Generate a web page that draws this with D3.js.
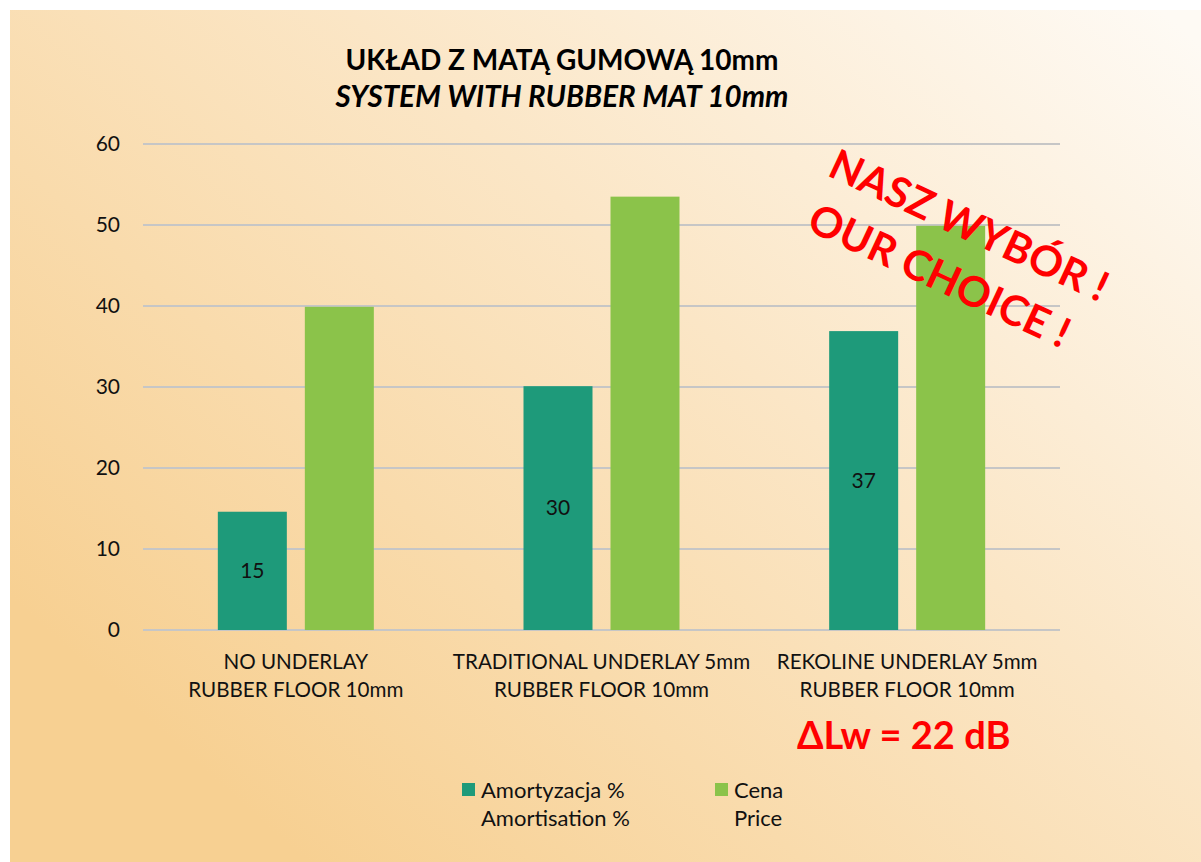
<!DOCTYPE html>
<html><head><meta charset="utf-8">
<script src="https://cdn.jsdelivr.net/npm/d3@7"></script>
<style>html,body{margin:0;padding:0;background:#fff;}svg{display:block;}</style>
</head><body>
<script>
const categories = [["NO UNDERLAY","RUBBER FLOOR 10mm"],["TRADITIONAL UNDERLAY 5mm","RUBBER FLOOR 10mm"],["REKOLINE UNDERLAY 5mm","RUBBER FLOOR 10mm"]];
const amortisation = [14.6, 30.1, 36.9];
const price = [39.9, 53.5, 49.9];
const seriesNames = [["Amortyzacja %","Amortisation %"],["Cena","Price"]];
const yTicks = [0,10,20,30,40,50,60];
const titleLines = ["UKŁAD Z MATĄ GUMOWĄ 10mm","SYSTEM WITH RUBBER MAT 10mm"];
const stampLines = ["NASZ WYBÓR !","OUR CHOICE !"];
const note = "ΔLw = 22 dB";

const W=1201,H=862;
const font="Lato, 'Open Sans', sans-serif";
const svg=d3.select("body").append("svg").attr("width",W).attr("height",H);
const defs=svg.append("defs");
const g=defs.append("linearGradient").attr("id","bg").attr("gradientUnits","userSpaceOnUse")
  .attr("x1",1150).attr("y1",0).attr("x2",350).attr("y2",900);
g.append("stop").attr("offset",0).attr("stop-color","#fefaf4");
g.append("stop").attr("offset",0.45).attr("stop-color","#fbe6c6");
g.append("stop").attr("offset",1).attr("stop-color","#f7d092");
svg.append("rect").attr("x",10).attr("y",10).attr("width",W-10).attr("height",H-10).attr("fill","url(#bg)");

const x0=d3.scaleBand().domain(d3.range(categories.length)).range([143,1060]);
const y=d3.scaleLinear().domain([0,60]).range([630,144]);
const barW=69, gap=18;

// grid
svg.append("g").selectAll("line").data(yTicks).join("line")
  .attr("x1",143).attr("x2",1060).attr("y1",d=>y(d)).attr("y2",d=>y(d))
  .attr("stroke","#c6c6c6").attr("stroke-width",2);
svg.append("g").selectAll("text").data(yTicks).join("text")
  .attr("x",120).attr("y",d=>y(d)).attr("dy","0.35em").attr("text-anchor","end")
  .attr("font-family",font).attr("font-size",21).attr("fill","#111").text(d=>d);

const colors=["#1e9a7a","#8bc34a"];
const series=[amortisation,price];
series.forEach((vals,si)=>{
  svg.append("g").selectAll("rect").data(vals).join("rect")
    .attr("x",(d,i)=>x0(i)+x0.bandwidth()/2 + (si===0? -gap/2-barW : gap/2))
    .attr("width",barW).attr("y",d=>y(d)).attr("height",d=>y(0)-y(d))
    .attr("fill",colors[si]);
});
svg.append("g").selectAll("text").data(amortisation).join("text")
  .attr("x",(d,i)=>x0(i)+x0.bandwidth()/2-gap/2-barW/2)
  .attr("y",d=>(y(d)+y(0))/2).attr("dy","0.35em").attr("text-anchor","middle")
  .attr("font-family",font).attr("font-size",21).attr("fill","#111").text(d=>Math.round(d));

// category labels
categories.forEach((c,i)=>{
  const t=svg.append("text").attr("text-anchor","middle").attr("font-family",font)
    .attr("font-size",20.6).attr("fill","#111");
  c.forEach((l,j)=>t.append("tspan").attr("x",x0(i)+x0.bandwidth()/2).attr("y",669+j*28).text(l));
});

// title
svg.append("text").attr("x",562).attr("y",70).attr("text-anchor","middle").attr("font-family",font)
  .attr("font-weight","bold").attr("font-size",28).attr("fill","#000").text(titleLines[0]);
svg.append("text").attr("x",562).attr("y",107).attr("text-anchor","middle").attr("font-family",font)
  .attr("font-weight","bold").attr("font-style","italic").attr("font-size",29.5).attr("fill","#000").text(titleLines[1]);

// legend
const leg=[{x:462},{x:715}];
seriesNames.forEach((n,i)=>{
  svg.append("rect").attr("x",leg[i].x).attr("y",783).attr("width",13).attr("height",13).attr("fill",colors[i]);
  n.forEach((l,j)=>svg.append("text").attr("x",leg[i].x+19).attr("y",798+j*28)
    .attr("font-family",font).attr("font-size",22).attr("fill","#111").text(l));
});

// stamp
const st=svg.append("g").attr("transform","translate(826,175) rotate(25)");
stampLines.forEach((l,j)=>st.append("text").attr("x",j?4:0).attr("y",j*58)
  .attr("font-family",font).attr("font-weight","bold").attr("font-size",42).attr("fill","#ff0000").text(l));

svg.append("text").attr("x",797).attr("y",749).attr("font-family",font).attr("font-weight","bold")
  .attr("font-size",38).attr("fill","#ff0000").text(note);
</script>
</body></html>
